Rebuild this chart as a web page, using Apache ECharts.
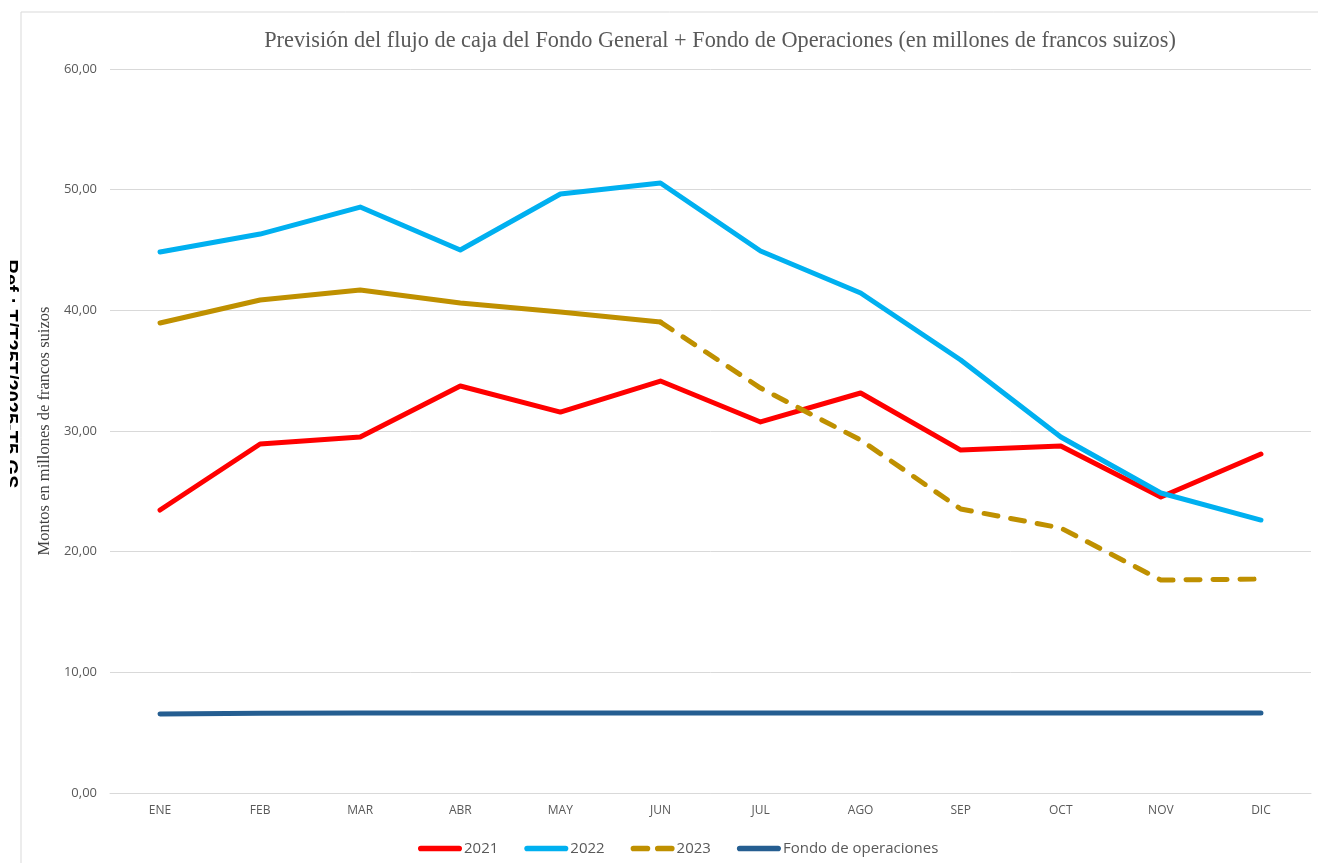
<!DOCTYPE html>
<html>
<head>
<meta charset="utf-8">
<script src="https://cdn.jsdelivr.net/npm/echarts@6/dist/echarts.min.js"></script>
<style>html,body{margin:0;padding:0;background:#fff;}#c{width:1318px;height:863px;}</style>
</head>
<body>
<div id="c"></div>
<script>
const categories = ['ENE','FEB','MAR','ABR','MAY','JUN','JUL','AGO','SEP','OCT','NOV','DIC'];
const s2021 = [23.45, 28.92, 29.50, 33.73, 31.57, 34.14, 30.75, 33.15, 28.42, 28.76, 24.53, 28.09];
const s2022 = [44.83, 46.32, 48.56, 45.00, 49.64, 50.55, 44.92, 41.44, 35.88, 29.50, 24.86, 22.62];
const s2023 = [38.95, 40.86, 41.68, 40.60, 39.86, 39.03, 33.56, 29.25, 23.54, 21.96, 17.65, 17.73];
const fondo = [6.55, 6.60, 6.62, 6.62, 6.62, 6.62, 6.62, 6.62, 6.62, 6.62, 6.62, 6.62];
const lastActualIndex = 5; // JUN: solid up to here, dashed afterwards
const yTicks = [0, 10, 20, 30, 40, 50, 60];

const s2023solid = s2023.map((v, i) => i <= lastActualIndex ? v : null);
const s2023dash = s2023.map((v, i) => i >= lastActualIndex ? v : null);

const solidIcon = 'path://M3,0 H44 A3,3 0 0 1 44,6 H3 A3,3 0 0 1 3,0 Z';
const dashIcon = 'path://M3,0 H18 A3,3 0 0 1 18,6 H3 A3,3 0 0 1 3,0 Z M29,0 H44 A3,3 0 0 1 44,6 H29 A3,3 0 0 1 29,0 Z';

const chart = echarts.init(document.getElementById('c'), null, {renderer: 'canvas'});
const labelFont = "'Open Sans', 'Liberation Sans', sans-serif";
chart.setOption({
  backgroundColor: '#ffffff',
  animation: false,
  title: {
    text: 'Previsión del flujo de caja del Fondo General + Fondo de Operaciones (en millones de francos suizos)',
    left: 715, top: 25, textAlign: 'center',
    textStyle: {fontFamily: "'Liberation Serif', serif", fontSize: 22.3, fontWeight: 'normal', color: '#595959'}
  },
  graphic: [
    {type: 'text', x: 10, y: 374, rotation: -Math.PI / 2, z: 1,
     style: {text: 'Ref.: T/T25T/2025-T5 GS', font: "bold 20px 'Liberation Sans', sans-serif", fill: '#000', textAlign: 'center', textVerticalAlign: 'middle'}},
    {type: 'rect', shape: {x: 0, y: 0, width: 10, height: 863}, style: {fill: '#ffffff'}, z: 2},
    {type: 'line', shape: {x1: 21, y1: 12, x2: 1318, y2: 12}, style: {stroke: '#D9D9D9', lineWidth: 1}},
    {type: 'line', shape: {x1: 21, y1: 12, x2: 21, y2: 863}, style: {stroke: '#D9D9D9', lineWidth: 1}}
  ],
  legend: {
    left: 413, top: 836,
    data: [
      {name: '2021', icon: solidIcon},
      {name: '2022', icon: solidIcon},
      {name: '2023', icon: dashIcon},
      {name: 'Fondo de operaciones', icon: solidIcon}
    ],
    itemWidth: 44, itemHeight: 6, itemGap: 26,
    textStyle: {fontFamily: labelFont, fontSize: 15, color: '#595959', padding: [0, 0, 0, -3]}
  },
  grid: {left: 110, right: 7, top: 69, bottom: 70},
  xAxis: {
    type: 'category', data: categories, boundaryGap: true,
    axisLine: {show: true, lineStyle: {color: '#D9D9D9', width: 1}},
    axisTick: {show: false},
    axisLabel: {margin: 12, fontFamily: labelFont, fontSize: 12, color: '#595959'}
  },
  yAxis: {
    type: 'value', min: yTicks[0], max: yTicks[yTicks.length - 1], interval: 10,
    name: 'Montos en millones de francos suizos', nameLocation: 'middle', nameGap: 57,
    nameTextStyle: {fontFamily: "'Liberation Serif', serif", fontSize: 16.5, color: '#404040'},
    axisLine: {show: false}, axisTick: {show: false},
    axisLabel: {margin: 13, fontFamily: labelFont, fontSize: 13, color: '#595959',
      formatter: v => v.toFixed(2).replace('.', ',')},
    splitLine: {lineStyle: {color: '#D9D9D9', width: 1}}
  },
  series: [
    {name: '2021', type: 'line', data: s2021, symbol: 'none', color: '#FF0000',
     lineStyle: {width: 5, color: '#FF0000', cap: 'round', join: 'round'}},
    {name: '2022', type: 'line', data: s2022, symbol: 'none', color: '#00B0F0',
     lineStyle: {width: 5, color: '#00B0F0', cap: 'round', join: 'round'}},
    {name: '2023', type: 'line', data: s2023dash, symbol: 'none', color: '#BF9000',
     lineStyle: {width: 5, color: '#BF9000', type: [14, 13], cap: 'round', join: 'round'}},
    {name: '2023 real', type: 'line', data: s2023solid, symbol: 'none', color: '#BF9000',
     lineStyle: {width: 5, color: '#BF9000', cap: 'round', join: 'round'}},
    {name: 'Fondo de operaciones', type: 'line', data: fondo, symbol: 'none', color: '#255E91',
     lineStyle: {width: 5, color: '#255E91', cap: 'round', join: 'round'}}
  ]
});
</script>
</body>
</html>
